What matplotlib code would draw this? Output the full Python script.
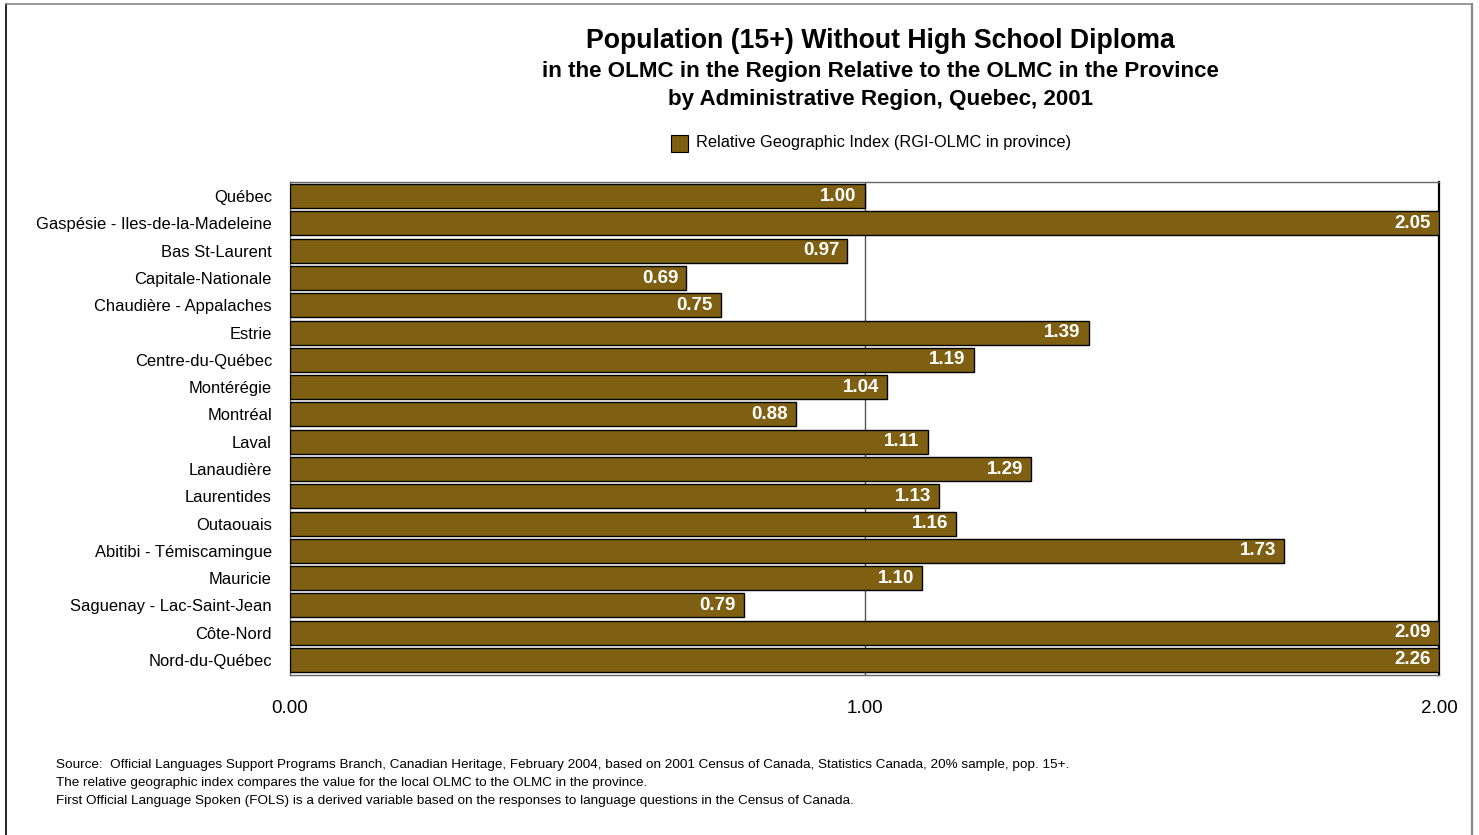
import matplotlib
matplotlib.use("Agg")
import matplotlib.pyplot as plt
from matplotlib.patches import Rectangle
from matplotlib.lines import Line2D

plt.rcParams['font.family'] = ['Liberation Sans', 'DejaVu Sans']

regions = ["Québec", "Gaspésie - Iles-de-la-Madeleine", "Bas St-Laurent",
           "Capitale-Nationale", "Chaudière - Appalaches", "Estrie",
           "Centre-du-Québec", "Montérégie", "Montréal", "Laval", "Lanaudière",
           "Laurentides", "Outaouais", "Abitibi - Témiscamingue", "Mauricie",
           "Saguenay - Lac-Saint-Jean", "Côte-Nord", "Nord-du-Québec"]
values = [1.00, 2.05, 0.97, 0.69, 0.75, 1.39, 1.19, 1.04, 0.88, 1.11, 1.29,
          1.13, 1.16, 1.73, 1.10, 0.79, 2.09, 2.26]
xticks = [0.0, 1.0, 2.0]
xticklabels = ["0.00", "1.00", "2.00"]
legend_label = "Relative Geographic Index (RGI-OLMC in province)"
title1 = "Population (15+) Without High School Diploma"
title2 = "in the OLMC in the Region Relative to the OLMC in the Province"
title3 = "by Administrative Region, Quebec, 2001"
notes = ["Source:  Official Languages Support Programs Branch, Canadian Heritage, February 2004, based on 2001 Census of Canada, Statistics Canada, 20% sample, pop. 15+.",
         "The relative geographic index compares the value for the local OLMC to the OLMC in the province.",
         "First Official Language Spoken (FOLS) is a derived variable based on the responses to language questions in the Census of Canada."]

bar_color = '#7f5f12'
W, H = 1479, 835
fig = plt.figure(figsize=(W / 100, H / 100), dpi=100)

ax = fig.add_axes([290 / W, 1 - 675 / H, (1439 - 290) / W, (675 - 182) / H])
xmax = 2.0
ypos = list(range(len(regions)))
clipped = [min(v, xmax) for v in values]
ax.barh(ypos, clipped, height=0.88, color=bar_color, edgecolor='black',
        linewidth=1.0, zorder=3)
ax.axvline(1.0, color='#555555', linewidth=1.0, zorder=1)
ax.set_xlim(0, xmax)
ax.set_ylim(len(regions) - 0.45, -0.52)
ax.set_xticks(xticks)
ax.set_xticklabels(xticklabels, fontsize=13.5)
ax.tick_params(axis='x', length=0, pad=18)
ax.set_yticks(ypos)
ax.set_yticklabels(regions, fontsize=11.9)
ax.tick_params(axis='y', length=0, pad=13)
for sp in ['left', 'top', 'bottom']:
    ax.spines[sp].set_color('#666666')
    ax.spines[sp].set_linewidth(1.0)
ax.spines['right'].set_color('black')
ax.spines['right'].set_linewidth(1.6)

for y, v, c in zip(ypos, values, clipped):
    ax.text(c - 0.014, y, f"{v:.2f}", ha='right', va='center', color='white',
            fontsize=13.5, fontweight='bold', zorder=4)

fig.text(880 / W, 1 - 41 / H, title1, ha='center', va='center', fontsize=19.2, fontweight='bold')
fig.text(880 / W, 1 - 71 / H, title2, ha='center', va='center', fontsize=16.1, fontweight='bold')
fig.text(880 / W, 1 - 99 / H, title3, ha='center', va='center', fontsize=16.1, fontweight='bold')

# legend
fig.patches.append(Rectangle((671 / W, 1 - 152 / H), 17 / W, 17 / H, transform=fig.transFigure,
                             facecolor=bar_color, edgecolor='black', linewidth=0.8))
fig.text(696 / W, 1 - 143 / H, legend_label, ha='left', va='center', fontsize=11.75)

for i, n in enumerate(notes):
    fig.text(56 / W, 1 - (765 + i * 18) / H, n, ha='left', va='center', fontsize=9.7)

# outer border
fig.lines.append(Line2D([6 / W, 6 / W], [0, 1 - 4 / H], transform=fig.transFigure, color='black', linewidth=1.2))
fig.lines.append(Line2D([6 / W, 1472 / W], [1 - 4 / H, 1 - 4 / H], transform=fig.transFigure, color='#888888', linewidth=1.2))
fig.lines.append(Line2D([1472 / W, 1472 / W], [0, 1 - 4 / H], transform=fig.transFigure, color='#888888', linewidth=1.6))

fig.savefig('out.png', dpi=100)
